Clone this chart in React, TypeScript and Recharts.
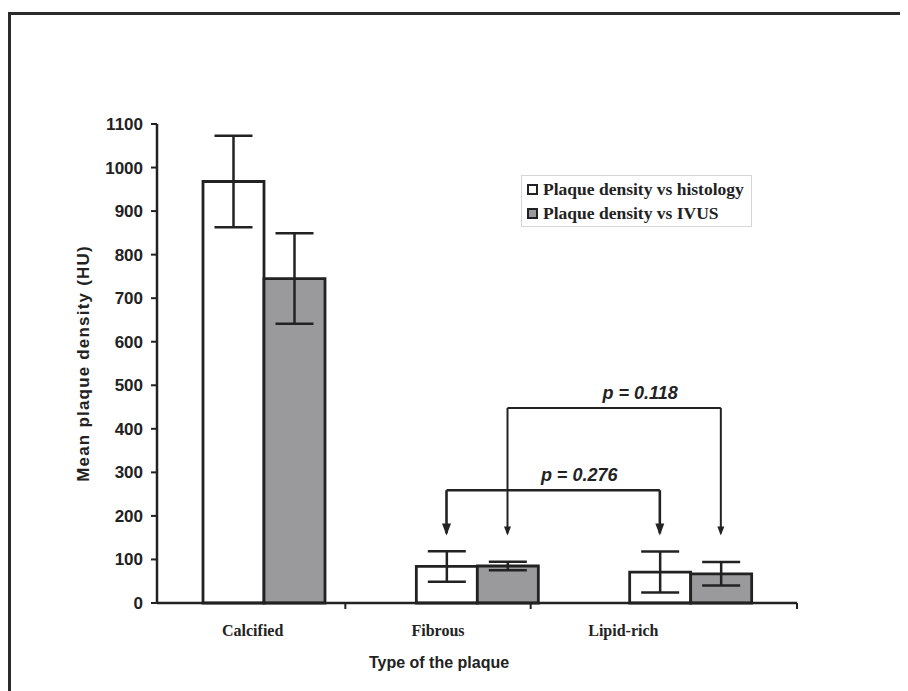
import {
  BarChart,
  Bar,
  XAxis,
  YAxis,
  ErrorBar,
  Legend,
  Label,
  ReferenceLine,
  ReferenceDot,
} from "recharts";

// mean plaque density (HU) per plaque type
const plaqueTypes = ["Calcified", "Fibrous", "Lipid-rich"];
const histologyMean = [968, 84, 71];
const histologySd = [105, 35, 47];
const ivusMean = [745, 85, 67];
const ivusSd = [104, 10, 27];
const yTicks = [0, 100, 200, 300, 400, 500, 600, 700, 800, 900, 1000, 1100];

const seriesNames = ["Plaque density vs histology", "Plaque density vs IVUS"];
const seriesFills = ["#ffffff", "#9a9a9c"];

// significance brackets between fibrous and lipid-rich
const comparisons = [
  { label: "p = 0.276", from: 1, to: 2, series: "hist", level: 259, heavy: true },
  { label: "p = 0.118", from: 1, to: 2, series: "ivus", level: 448, heavy: false },
];
const arrowTip = 155;

const data = plaqueTypes.map((type, i) => ({
  type,
  idx: i,
  hist: histologyMean[i],
  histSd: histologySd[i],
  ivus: ivusMean[i],
  ivusSd: ivusSd[i],
}));

const W = 900;
const H = 683;
const PLOT_W = 640;
const BAR = 61;
const INK = "#222";
const LBL_PAD = { left: 3, right: 81 };
const LBL_BAND = (PLOT_W - LBL_PAD.left - LBL_PAD.right) / plaqueTypes.length;

// centre of a bar on the index axis (-0.5 .. 2.5)
const barPos = (i: number, series: string) => {
  const half = BAR / 2 / (PLOT_W / plaqueTypes.length);
  return i + (series === "hist" ? -half : half);
};

const CategoryTick = (props: any) => {
  const { x, y, payload, index } = props;
  return (
    <g>
      {index > 0 && (
        <line
          x1={x - LBL_BAND / 2}
          x2={x - LBL_BAND / 2}
          y1={y}
          y2={y + 6}
          stroke={INK}
          strokeWidth={2}
        />
      )}
      <text
        x={x}
        y={y + 33}
        textAnchor="middle"
        fill={INK}
        fontFamily="Liberation Serif"
        fontWeight="bold"
        fontSize={16}
      >
        {payload.value}
      </text>
    </g>
  );
};

const arrowHead = (w: number, h: number) => (props: any) => {
  const { cx, cy } = props;
  return (
    <path
      d={`M${cx - w / 2},${cy - h} L${cx + w / 2},${cy - h} L${cx},${cy} Z`}
      fill={INK}
    />
  );
};

const LegendBox = () => (
  <div
    style={{
      border: "1px solid #d6d6d6",
      background: "#fff",
      padding: "1px 5px",
      width: 231,
      boxSizing: "border-box",
      fontFamily: "Liberation Serif",
      fontWeight: "bold",
      fontSize: 17.5,
      color: INK,
      whiteSpace: "nowrap",
    }}
  >
    {seriesNames.map((name, i) => (
      <div key={name} style={{ display: "flex", alignItems: "center", height: 24 }}>
        <span
          style={{
            width: 7,
            height: 7,
            border: `2px solid ${INK}`,
            background: seriesFills[i],
            marginRight: 5,
            flex: "none",
          }}
        />
        {name}
      </div>
    ))}
  </div>
);

export default function App() {
  return (
    <div style={{ position: "relative", width: W, height: H, overflow: "hidden" }}>
      <div
        style={{
          position: "absolute",
          left: 0,
          top: 4,
          width: 940,
          height: 740,
          border: "3px solid #2b2b2b",
          boxSizing: "border-box",
        }}
      />
      <div style={{ position: "absolute", left: 0, top: 0 }}>
        <BarChart
          width={W}
          height={H}
          data={data}
          margin={{ top: 116, right: W - 149 - PLOT_W, bottom: 0, left: 69 }}
          barGap={0}
          barSize={BAR}
        >
          <XAxis dataKey="type" hide height={0} />
          <XAxis
            xAxisId="pos"
            dataKey="idx"
            type="number"
            domain={[-0.5, 2.5]}
            allowDataOverflow
            hide
            height={0}
          />
          <XAxis
            xAxisId="lbl"
            dataKey="type"
            padding={LBL_PAD}
            height={88}
            interval={0}
            tickLine={false}
            tickSize={0}
            tickMargin={0}
            axisLine={{ stroke: INK, strokeWidth: 2.5 }}
            tick={<CategoryTick />}
          >
            <Label
              value="Type of the plaque"
              position="insideBottom"
              offset={23}
              dx={-38}
              style={{
                fontFamily: "Liberation Sans",
                fontWeight: "bold",
                fontSize: 16,
                fill: INK,
              }}
            />
          </XAxis>
          <YAxis
            width={80}
            domain={[0, 1100]}
            ticks={yTicks}
            interval={0}
            tickSize={6}
            tickMargin={8}
            axisLine={{ stroke: INK, strokeWidth: 2.5 }}
            tickLine={{ stroke: INK, strokeWidth: 2 }}
            tick={{
              fill: INK,
              fontFamily: "Liberation Sans",
              fontWeight: "bold",
              fontSize: 17,
            }}
          >
            <Label
              value="Mean plaque density (HU)"
              angle={-90}
              position="insideLeft"
              offset={6}
              style={{
                textAnchor: "middle",
                fontFamily: "Liberation Sans",
                fontWeight: "bold",
                fontSize: 17,
                letterSpacing: 1.2,
                fill: INK,
              }}
            />
          </YAxis>
          <Legend
            layout="vertical"
            align="center"
            verticalAlign="middle"
            wrapperStyle={{ left: 513, top: 167, width: 231 }}
            content={<LegendBox />}
          />
          <Bar
            dataKey="hist"
            name={seriesNames[0]}
            fill={seriesFills[0]}
            stroke={INK}
            strokeWidth={2.8}
            isAnimationActive={false}
          >
            <ErrorBar dataKey="histSd" width={19} stroke={INK} strokeWidth={2.5} />
          </Bar>
          <Bar
            dataKey="ivus"
            name={seriesNames[1]}
            fill={seriesFills[1]}
            stroke={INK}
            strokeWidth={2.8}
            isAnimationActive={false}
          >
            <ErrorBar dataKey="ivusSd" width={19} stroke={INK} strokeWidth={2.5} />
          </Bar>

          {/* right end tick of the category axis */}
          <ReferenceLine
            xAxisId="pos"
            segment={[{ x: 2.5, y: 0 }, { x: 2.5, y: -14 }]}
            ifOverflow="visible"
            stroke={INK}
            strokeWidth={2}
          />

          {comparisons.flatMap((c) => {
            const a = barPos(c.from, c.series);
            const b = barPos(c.to, c.series);
            const sw = c.heavy ? 2.6 : 2;
            const head = c.heavy ? arrowHead(9, 12) : arrowHead(7, 9);
            return [
              <ReferenceLine
                key={c.label + "h"}
                xAxisId="pos"
                segment={[{ x: a, y: c.level }, { x: b, y: c.level }]}
                stroke={INK}
                strokeWidth={sw}
                label={{
                  value: c.label,
                  position: "top",
                  offset: 9,
                  dx: 26,
                  style: {
                    fontFamily: "Liberation Sans",
                    fontWeight: "bold",
                    fontStyle: "italic",
                    fontSize: 18,
                    fill: INK,
                  },
                }}
              />,
              <ReferenceLine
                key={c.label + "l"}
                xAxisId="pos"
                segment={[{ x: a, y: c.level }, { x: a, y: arrowTip + 5 }]}
                stroke={INK}
                strokeWidth={sw}
              />,
              <ReferenceLine
                key={c.label + "r"}
                xAxisId="pos"
                segment={[{ x: b, y: c.level }, { x: b, y: arrowTip + 5 }]}
                stroke={INK}
                strokeWidth={sw}
              />,
              <ReferenceDot
                key={c.label + "la"}
                xAxisId="pos"
                x={a}
                y={arrowTip}
                r={0}
                shape={head}
              />,
              <ReferenceDot
                key={c.label + "ra"}
                xAxisId="pos"
                x={b}
                y={arrowTip}
                r={0}
                shape={head}
              />,
            ];
          })}
        </BarChart>
      </div>
    </div>
  );
}
